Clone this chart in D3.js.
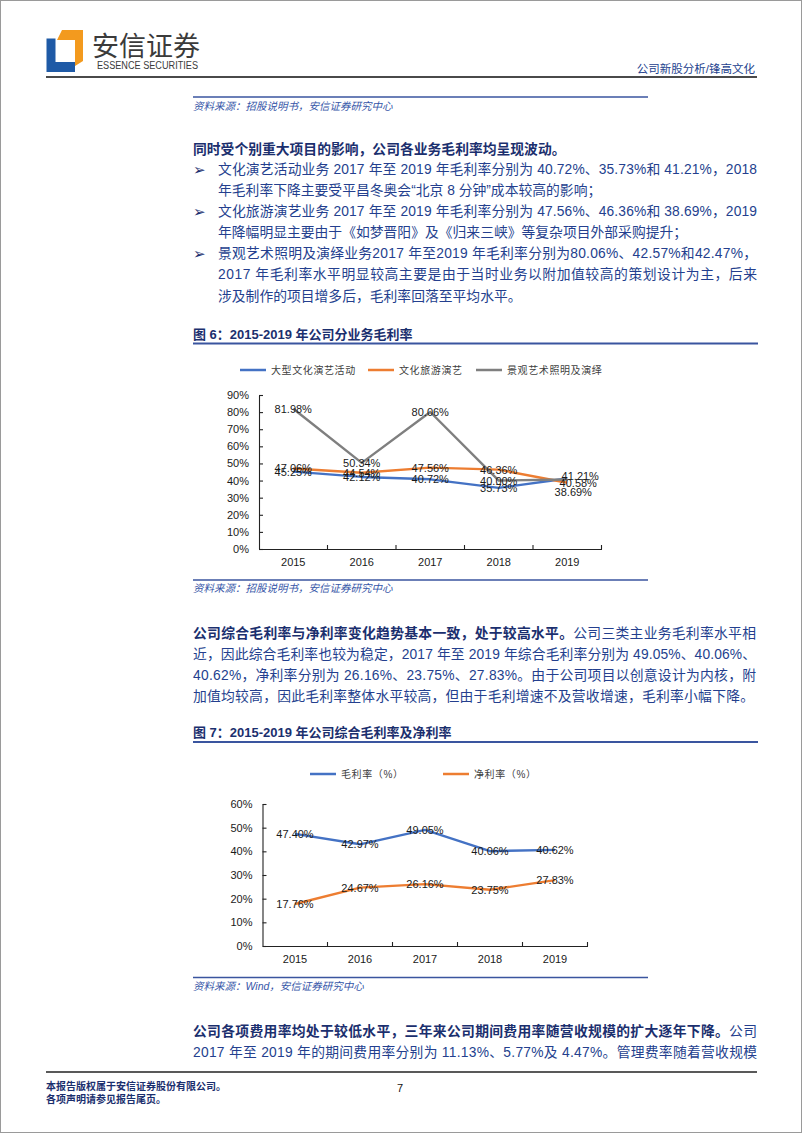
<!DOCTYPE html>
<html><head><meta charset="utf-8">
<script src="https://cdn.jsdelivr.net/npm/d3@7/dist/d3.min.js"></script>
<style>
html,body{margin:0;padding:0;background:#fff;}
svg text{font-family:"Liberation Sans",Arial,"Noto Sans CJK SC",sans-serif;}
</style></head>
<body>
<svg id="page" width="802" height="1133"></svg>
<script>
// ---------- DATA ----------
const years = ["2015", "2016", "2017", "2018", "2019"];
const bizNames = ["大型文化演艺活动", "文化旅游演艺", "景观艺术照明及演绎"];
const bizPerformance = [0.4525, 0.4212, 0.4072, 0.3573, 0.4121];
const bizTourism = [0.4706, 0.4454, 0.4756, 0.4636, 0.3869];
const bizLandscape = [0.8198, 0.5034, 0.8006, 0.4000, 0.4058];
const chart6Ticks = [0, 0.1, 0.2, 0.3, 0.4, 0.5, 0.6, 0.7, 0.8, 0.9];

const overallNames = ["毛利率（%）", "净利率（%）"];
const grossMargin = [0.4740, 0.4297, 0.4905, 0.4006, 0.4062];
const netMargin = [0.1776, 0.2467, 0.2616, 0.2375, 0.2783];
const chart7Ticks = [0, 0.1, 0.2, 0.3, 0.4, 0.5, 0.6];

// ---------- STYLE ----------
const C_BLUE = "#4472C4", C_ORANGE = "#ED7D31", C_GRAY = "#7F7F7F";
const NAVY = "#243f8e", NAVY_B = "#1b2f6e", RULE = "#3a559f";
const CJK = "'Noto Sans CJK SC',sans-serif";
const BODY = "'Liberation Sans',Arial,'Noto Sans CJK SC',sans-serif";

const svg = d3.select("#page");

// page border
svg.append("rect").attr("x", 0.5).attr("y", 0.5).attr("width", 801).attr("height", 1132)
  .attr("fill", "none").attr("stroke", "#9a9a9a").attr("stroke-width", 1);

// ---------- HEADER ----------
const logo = svg.append("g");
logo.append("path").attr("d", "M46.5,38.5 L55.5,38.5 L55.5,62 L75,62 L75,72 L46.5,72 Z").attr("fill", "#1f5aa6");
logo.append("path").attr("d", "M62,30 L83,30 L83,61 L75,66 L75,40 L57,40 Z").attr("fill", "#f39a1e");
svg.append("text").attr("x", 92).attr("y", 55.5).attr("font-family", CJK).attr("font-size", 27)
  .attr("fill", "#3b3b3b").text("安信证券");
svg.append("text").attr("x", 97).attr("y", 69).attr("font-size", 10).attr("fill", "#3b3b3b")
  .attr("textLength", 101).attr("lengthAdjust", "spacingAndGlyphs").text("ESSENCE SECURITIES");
svg.append("text").attr("x", 755).attr("y", 72.5).attr("text-anchor", "end").attr("font-family", CJK)
  .attr("font-size", 11.5).attr("fill", NAVY).text("公司新股分析/锋高文化");
svg.append("line").attr("x1", 46).attr("x2", 757).attr("y1", 77).attr("y2", 77)
  .attr("stroke", "#4a4a4a").attr("stroke-width", 2);

// ---------- TEXT HELPERS ----------
function line(x, cy, segs, width, size) {
  const fs = size || 13.8;
  const t = svg.append("text").attr("x", x).attr("y", cy + fs * 0.37)
    .attr("font-family", BODY).attr("font-size", fs);
  segs.forEach(s => {
    t.append("tspan").attr("font-weight", s[1] ? "bold" : "normal")
      .attr("fill", s[1] ? NAVY_B : NAVY).text(s[0]);
  });
  if (width) t.attr("textLength", width).attr("lengthAdjust", "spacing");
  return t;
}
function sourceNote(lineY, textCY, txt) {
  svg.append("line").attr("x1", 193).attr("x2", 648).attr("y1", lineY).attr("y2", lineY)
    .attr("stroke", RULE).attr("stroke-width", 1.5);
  svg.append("text").attr("x", 193).attr("y", textCY + 4).attr("font-size", 10.5)
    .attr("font-style", "italic").attr("fill", "#3656a8").text(txt);
}
function figTitle(cy, lineY, txt) {
  svg.append("text").attr("x", 193).attr("y", cy + 5).attr("font-family", BODY)
    .attr("font-size", 13).attr("font-weight", "bold").attr("fill", NAVY_B).text(txt);
  svg.append("line").attr("x1", 193).attr("x2", 758).attr("y1", lineY).attr("y2", lineY)
    .attr("stroke", RULE).attr("stroke-width", 2);
}
function bullet(cy) {
  svg.append("text").attr("x", 193).attr("y", cy + 5.5).attr("font-family", "'DejaVu Sans',sans-serif")
    .attr("font-size", 15).attr("fill", NAVY_B).text("➢");
}

sourceNote(97, 106, "资料来源：招股说明书，安信证券研究中心");

line(193, 149, [["同时受个别重大项目的影响，公司各业务毛利率均呈现波动。", true]]);
bullet(169);
line(218, 169, [["文化演艺活动业务 2017 年至 2019 年毛利率分别为 40.72%、35.73%和 41.21%，2018", false]], 539);
line(218, 190, [["年毛利率下降主要受平昌冬奥会“北京 8 分钟”成本较高的影响；", false]]);
bullet(211);
line(218, 211, [["文化旅游演艺业务 2017 年至 2019 年毛利率分别为 47.56%、46.36%和 38.69%，2019", false]], 539);
line(218, 232, [["年降幅明显主要由于《如梦晋阳》及《归来三峡》等复杂项目外部采购提升；", false]]);
bullet(253);
line(218, 253, [["景观艺术照明及演绎业务2017 年至2019 年毛利率分别为80.06%、42.57%和42.47%，", false]], 539);
line(218, 274, [["2017 年毛利率水平明显较高主要是由于当时业务以附加值较高的策划设计为主，后来", false]], 539);
line(218, 296, [["涉及制作的项目增多后，毛利率回落至平均水平。", false]]);

// ---------- CHART HELPER ----------
function lineChart(opt) {
  const g = svg.append("g");
  const x = d3.scaleBand().domain(years).range([opt.x0, opt.x1]).padding(0);
  const y = d3.scaleLinear().domain([0, opt.ymax]).range([opt.y0, opt.y1]);

  // legend
  const lg = g.append("g");
  opt.series.forEach((s, i) => {
    const lx = opt.legendX[i];
    lg.append("line").attr("x1", lx).attr("x2", lx + 26).attr("y1", opt.legendY).attr("y2", opt.legendY)
      .attr("stroke", s.color).attr("stroke-width", 2.5);
    lg.append("text").attr("x", lx + 31).attr("y", opt.legendY + 3.8).attr("font-family", CJK)
      .attr("font-size", 10).attr("letter-spacing", 0.6).attr("fill", "#404040").text(s.name);
  });

  // y axis
  const ya = d3.axisLeft(y).tickValues(opt.ticks).tickFormat(d3.format(".0%"))
    .tickSize(-4).tickSizeOuter(0).tickPadding(10);
  const yg = g.append("g").attr("transform", `translate(${opt.x0},0)`).call(ya);
  yg.select(".domain").attr("stroke", "#222").attr("stroke-width", 1.1);
  yg.selectAll(".tick line").attr("stroke", "#222").attr("stroke-width", 1.1);
  yg.selectAll(".tick text").attr("font-size", 11).attr("fill", "#1a1a1a")
    .attr("font-family", "'Liberation Sans',Arial,sans-serif");

  // x axis
  const xa = d3.axisBottom(x).tickSize(0).tickPadding(9);
  const xg = g.append("g").attr("transform", `translate(0,${opt.y0})`).call(xa);
  xg.select(".domain").attr("stroke", "#222").attr("stroke-width", 1.1);
  xg.selectAll(".tick text").attr("font-size", 11).attr("fill", "#1a1a1a")
    .attr("font-family", "'Liberation Sans',Arial,sans-serif");
  const bounds = years.slice(1).map(d => x(d)).concat([x(years[years.length - 1]) + x.bandwidth()]);
  g.selectAll(".xb").data(bounds).enter().append("line")
    .attr("x1", d => d).attr("x2", d => d).attr("y1", opt.y0).attr("y2", opt.y0 - 4)
    .attr("stroke", "#222").attr("stroke-width", 1.1);

  // lines
  const gen = d3.line().x((d, i) => x(years[i]) + x.bandwidth() / 2).y(d => y(d));
  opt.series.forEach(s => {
    g.append("path").datum(s.values).attr("d", gen).attr("fill", "none")
      .attr("stroke", s.color).attr("stroke-width", 2.4).attr("stroke-linejoin", "round");
  });
  // labels (centered on the point)
  opt.series.forEach((s, si) => {
    s.values.forEach((v, i) => {
      const off = (opt.labelOffsets && opt.labelOffsets[si] && opt.labelOffsets[si][i]) || [0, 0];
      g.append("text").attr("x", x(years[i]) + x.bandwidth() / 2 + off[0])
        .attr("y", y(v) + 4 + off[1]).attr("text-anchor", "middle")
        .attr("font-size", 11).attr("fill", "#1a1a1a")
        .attr("font-family", "'Liberation Sans',Arial,sans-serif")
        .text(d3.format(".2%")(v));
    });
  });
}

// ---------- FIGURE 6 ----------
figTitle(334, 343.5, "图 6：2015-2019 年公司分业务毛利率");
lineChart({
  x0: 259, x1: 601.5, y0: 549, y1: 395, ymax: 0.9, ticks: chart6Ticks,
  legendY: 370, legendX: [240, 368, 476],
  series: [
    { name: bizNames[0], values: bizPerformance, color: C_BLUE },
    { name: bizNames[1], values: bizTourism, color: C_ORANGE },
    { name: bizNames[2], values: bizLandscape, color: C_GRAY }
  ],
  labelOffsets: [
    { 4: [13, -2] },
    { 4: [6, 9] },
    { 4: [11, 3] }
  ]
});
sourceNote(580, 588, "资料来源：招股说明书，安信证券研究中心");

line(193, 633, [["公司综合毛利率与净利率变化趋势基本一致，处于较高水平。", true], ["公司三类主业务毛利率水平相", false]], 563);
line(193, 654, [["近，因此综合毛利率也较为稳定，2017 年至 2019 年综合毛利率分别为 49.05%、40.06%、", false]], 563);
line(193, 675, [["40.62%，净利率分别为 26.16%、23.75%、27.83%。由于公司项目以创意设计为内核，附", false]], 563);
line(193, 696, [["加值均较高，因此毛利率整体水平较高，但由于毛利增速不及营收增速，毛利率小幅下降。", false]], 561);

// ---------- FIGURE 7 ----------
figTitle(732, 742, "图 7：2015-2019 年公司综合毛利率及净利率");
lineChart({
  x0: 262.5, x1: 587.5, y0: 946, y1: 804, ymax: 0.6, ticks: chart7Ticks,
  legendY: 774, legendX: [310, 443],
  series: [
    { name: overallNames[0], values: grossMargin, color: C_BLUE },
    { name: overallNames[1], values: netMargin, color: C_ORANGE }
  ]
});
sourceNote(977.5, 986, "资料来源：Wind，安信证券研究中心");

line(193, 1031, [["公司各项费用率均处于较低水平，三年来公司期间费用率随营收规模的扩大逐年下降。", true], ["公司", false]], 564);
line(193, 1052, [["2017 年至 2019 年的期间费用率分别为 11.13%、5.77%及 4.47%。管理费率随着营收规模", false]], 564);

// ---------- FOOTER ----------
svg.append("line").attr("x1", 46).attr("x2", 757).attr("y1", 1072).attr("y2", 1072)
  .attr("stroke", "#222").attr("stroke-width", 1.3);
svg.append("text").attr("x", 46).attr("y", 1089.5).attr("font-family", CJK).attr("font-size", 10)
  .attr("font-weight", "bold").attr("fill", NAVY_B).text("本报告版权属于安信证券股份有限公司。");
svg.append("text").attr("x", 46).attr("y", 1102.5).attr("font-family", CJK).attr("font-size", 10)
  .attr("font-weight", "bold").attr("fill", NAVY_B).text("各项声明请参见报告尾页。");
svg.append("text").attr("x", 400).attr("y", 1092).attr("text-anchor", "middle").attr("font-size", 11)
  .attr("fill", "#111").text("7");
</script>
</body></html>
